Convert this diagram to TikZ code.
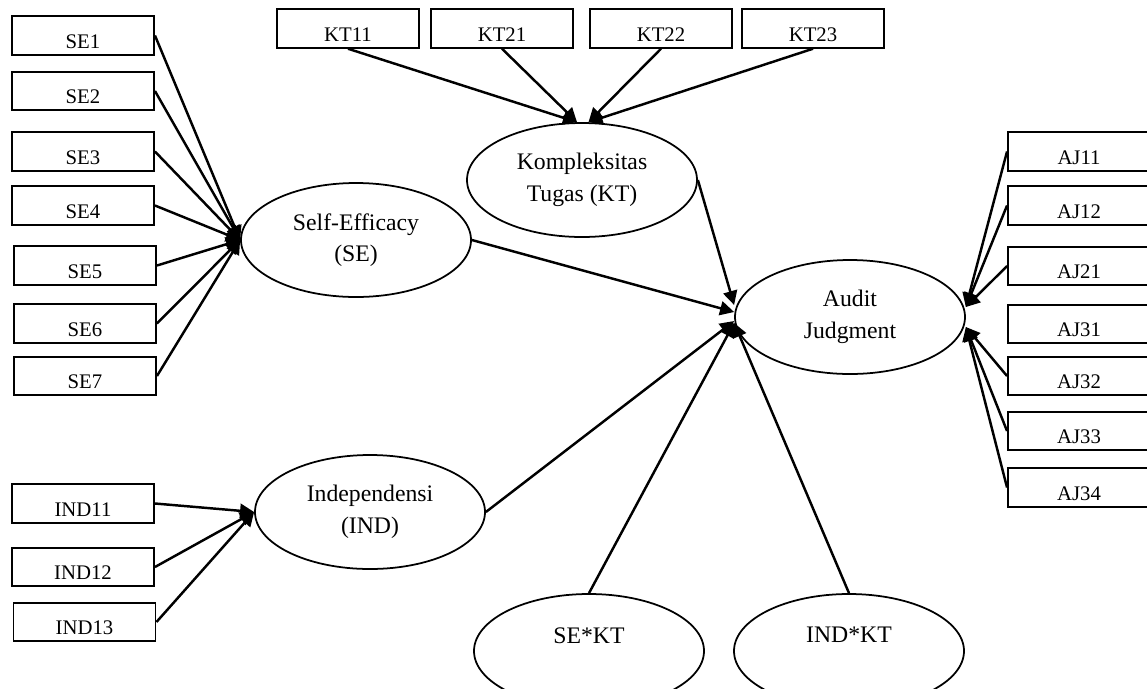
\documentclass[tikz,border=0pt]{standalone}
\usepackage{fontspec}
\setmainfont{Liberation Serif}
\usetikzlibrary{
  arrows.meta,
  shapes.geometric
}

\begin{document}
\begin{tikzpicture}[scale=1,every text node part/.style={align=center},
  indbox/.style={rectangle,draw=black,fill=white,line width=1.1pt,minimum width=2.84cm,minimum height=0.77cm,inner sep=2pt,text height=14.5pt,text depth=0pt,font=\fontsize{11.8}{13}\selectfont},
  latent/.style={ellipse,draw=black,fill=white,line width=1pt,minimum width=4.6cm,minimum height=2.28cm,inner sep=0pt,font=\fontsize{13.5}{18}\selectfont},
  arr/.style={-{Triangle[length=8pt,width=8pt]},line width=1.4pt}]
  \useasboundingbox (0,0) rectangle (22.94,-13.76);
  % latent variables
  \node[latent] (se) at (7.12,-4.80) {Self-Efficacy\\(SE)};
  \node[latent] (kt) at (11.64,-3.60) {Kompleksitas\\Tugas (KT)};
  \node[latent] (aj) at (17.00,-6.34) {Audit\\Judgment};
  \node[latent] (ind) at (7.40,-10.24) {Independensi\\(IND)};
  \node[latent] (sekt) at (11.78,-13.02) {SE*KT\\\mbox{}};
  \node[latent] (indkt) at (16.98,-13.02) {IND*KT\\\mbox{}};
  % indicators SE
  \node[indbox] (se1) at (1.66,-0.71) {SE1};
  \node[indbox] (se2) at (1.66,-1.82) {SE2};
  \node[indbox] (se3) at (1.66,-3.03) {SE3};
  \node[indbox] (se4) at (1.66,-4.11) {SE4};
  \node[indbox] (se5) at (1.70,-5.31) {SE5};
  \node[indbox] (se6) at (1.70,-6.47) {SE6};
  \node[indbox] (se7) at (1.70,-7.52) {SE7};
  \draw[arr] (se1.east) -- (se.west);
  \draw[arr] (se2.east) -- (se.west);
  \draw[arr] (se3.east) -- (se.west);
  \draw[arr] (se4.east) -- (se.west);
  \draw[arr] (se5.east) -- (se.west);
  \draw[arr] (se6.east) -- (se.west);
  \draw[arr] (se7.east) -- (se.west);
  % indicators KT
  \node[indbox] (kt11) at (6.96,-0.57) {KT11};
  \node[indbox] (kt21) at (10.04,-0.57) {KT21};
  \node[indbox] (kt22) at (13.22,-0.57) {KT22};
  \node[indbox] (kt23) at (16.26,-0.57) {KT23};
  \draw[arr] (kt11.south) -- ([xshift=-0.1cm]kt.north);
  \draw[arr] (kt21.south) -- ([xshift=-0.1cm]kt.north);
  \draw[arr] (kt22.south) -- ([xshift=0.13cm]kt.north);
  \draw[arr] (kt23.south) -- ([xshift=0.13cm]kt.north);
  % indicators AJ
  \node[indbox] (aj11) at (21.58,-3.03) {AJ11};
  \node[indbox] (aj12) at (21.58,-4.11) {AJ12};
  \node[indbox] (aj21) at (21.58,-5.32) {AJ21};
  \node[indbox] (aj31) at (21.58,-6.48) {AJ31};
  \node[indbox] (aj32) at (21.58,-7.52) {AJ32};
  \node[indbox] (aj33) at (21.58,-8.62) {AJ33};
  \node[indbox] (aj34) at (21.58,-9.75) {AJ34};
  \draw[arr] (aj11.west) -- ([yshift=0.2cm]aj.east);
  \draw[arr] (aj12.west) -- ([yshift=0.2cm]aj.east);
  \draw[arr] (aj21.west) -- ([yshift=0.2cm]aj.east);
  \draw[arr] (aj32.west) -- ([yshift=-0.2cm]aj.east);
  \draw[arr] (aj33.west) -- ([yshift=-0.2cm]aj.east);
  \draw[arr] (aj34.west) -- ([yshift=-0.2cm]aj.east);
  % indicators IND
  \node[indbox] (ind11) at (1.66,-10.07) {IND11};
  \node[indbox] (ind12) at (1.66,-11.34) {IND12};
  \node[indbox] (ind13) at (1.69,-12.44) {IND13};
  \draw[arr] (ind11.east) -- (ind.west);
  \draw[arr] (ind12.east) -- (ind.west);
  \draw[arr] (ind13.east) -- (ind.west);
  % structural paths
  \draw[arr] (kt.east) -- ([yshift=0.24cm]aj.west);
  \draw[arr] (se.east) -- ([yshift=0.1cm]aj.west);
  \draw[arr] (ind.east) -- ([yshift=-0.08cm]aj.west);
  \draw[arr] (sekt.north) -- ([yshift=-0.12cm]aj.west);
  \draw[arr] (indkt.north) -- ([yshift=-0.12cm]aj.west);
\end{tikzpicture}
\end{document}
